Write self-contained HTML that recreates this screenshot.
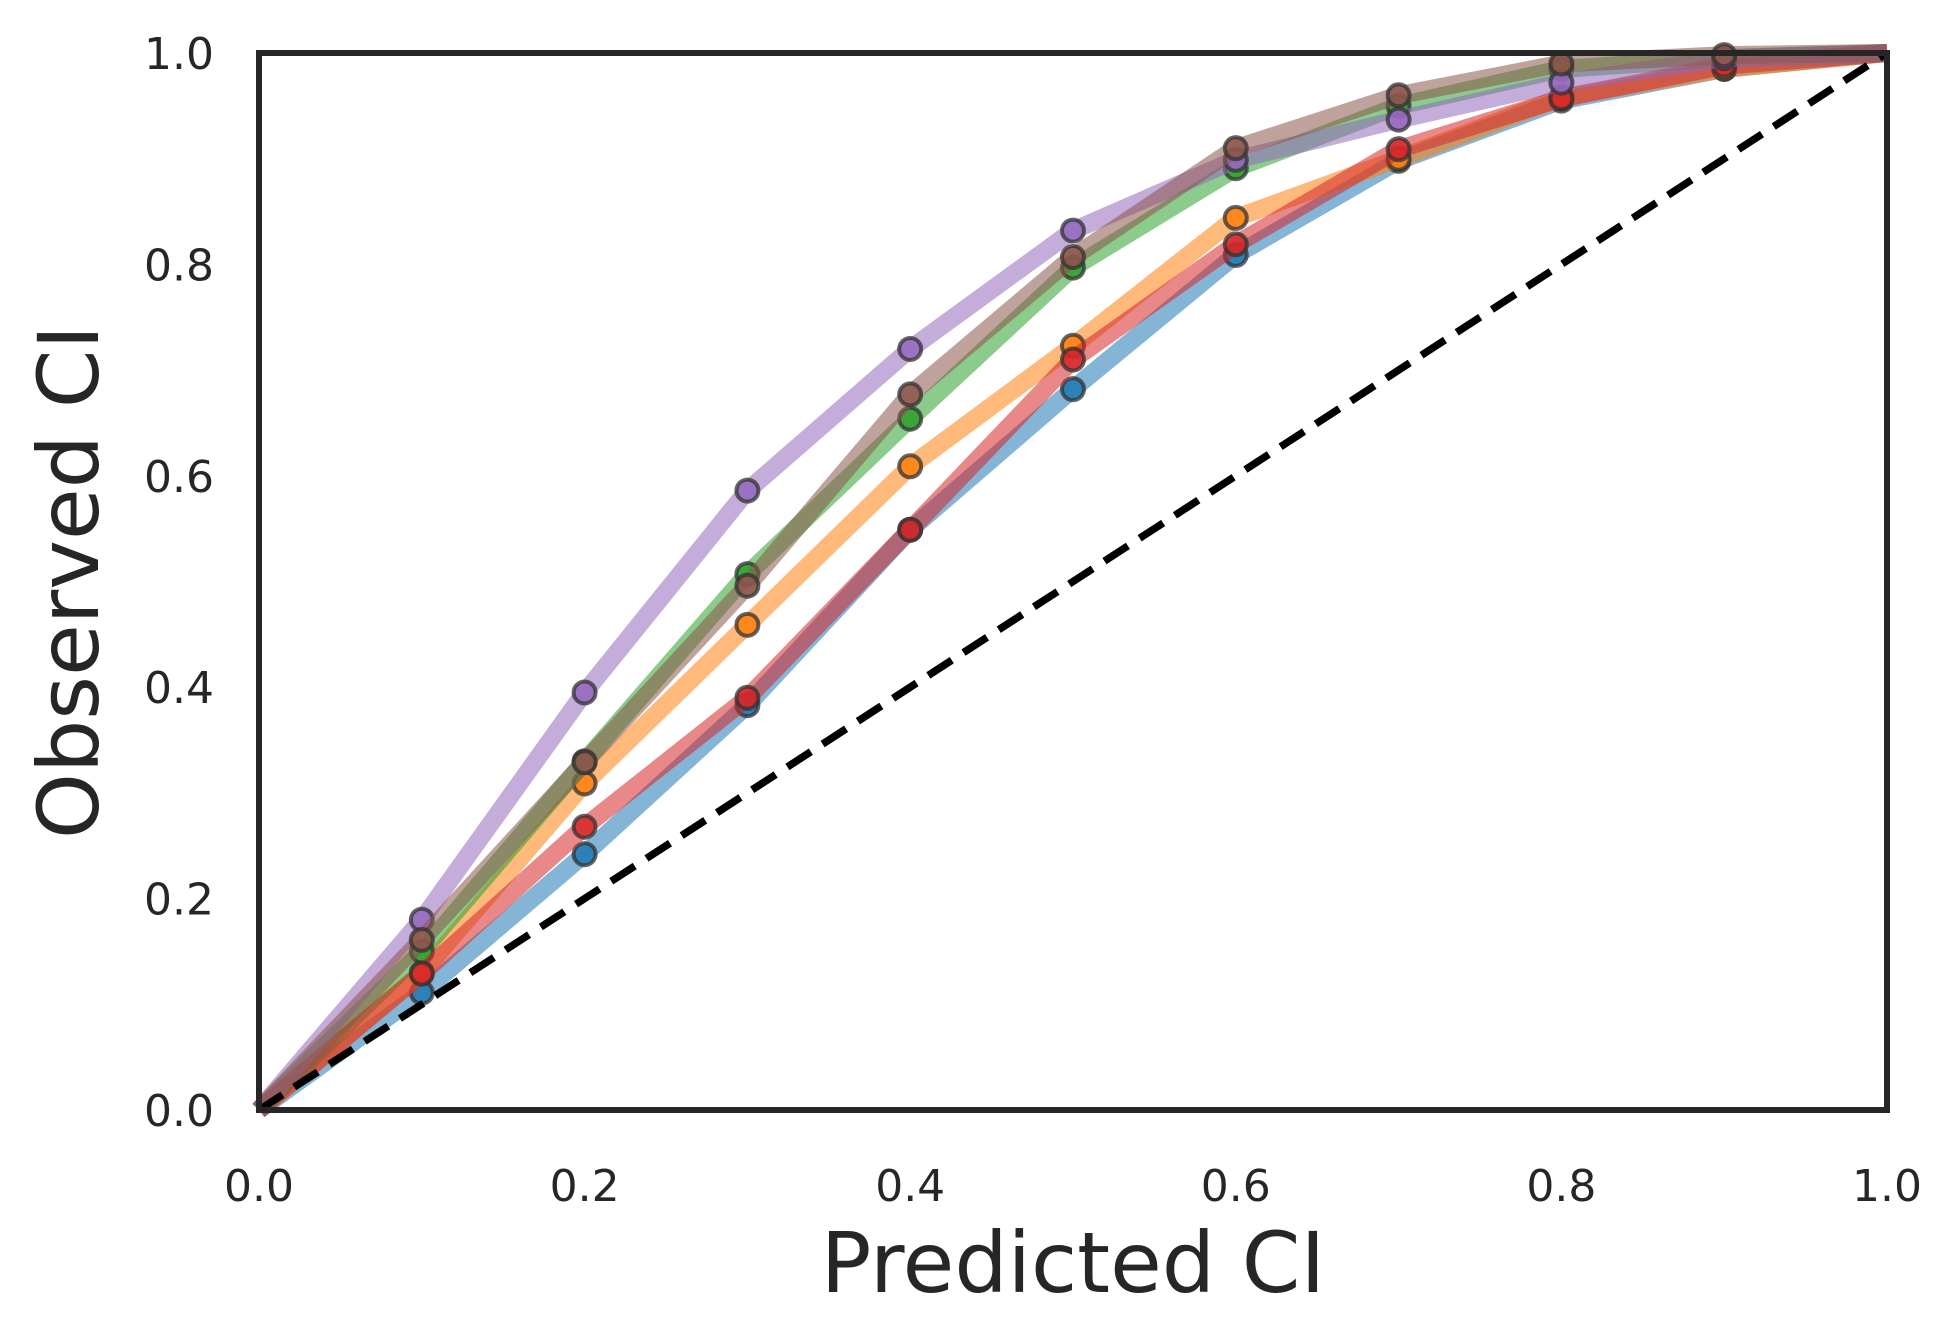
<!DOCTYPE html>
<html><head><meta charset="utf-8">
<style>
html,body{margin:0;padding:0;background:#fff;}
svg{display:block;font-family:"DejaVu Sans","Liberation Sans",sans-serif;}
</style></head>
<body>
<svg id="chart" width="1960" height="1340" viewBox="0 0 1960 1340" xmlns="http://www.w3.org/2000/svg">
<rect width="1960" height="1340" fill="#fff"/>
<g id="series"></g>
<g id="ticks"></g>
<text x="1073" y="1292" font-size="84" fill="#262626" text-anchor="middle">Predicted CI</text>
<text x="0" y="0" font-size="84" fill="#262626" text-anchor="middle" transform="translate(98,582) rotate(-90)">Observed CI</text>
</svg>
<script>
const xs = [0,0.1,0.2,0.3,0.4,0.5,0.6,0.7,0.8,0.9,1.0];
const blueVals   = [0,0.111,0.242,0.383,0.549,0.682,0.809,0.898,0.955,0.985,1];
const orangeVals = [0,0.13,0.309,0.459,0.609,0.723,0.844,0.900,0.958,0.985,1];
const greenVals  = [0,0.15,0.33,0.507,0.654,0.797,0.891,0.95,0.985,0.995,1];
const redVals    = [0,0.129,0.268,0.390,0.549,0.710,0.819,0.909,0.957,0.988,1];
const purpleVals = [0,0.18,0.395,0.586,0.720,0.832,0.899,0.937,0.972,0.995,1];
const brownVals  = [0,0.161,0.329,0.496,0.677,0.807,0.910,0.960,0.99,0.998,1];
const seriesNames = ['blue','orange','green','red','purple','brown'];
const seriesColors = ['#1f77b4','#ff7f0e','#2ca02c','#d62728','#9467bd','#8c564b'];
const tickVals = [0,0.2,0.4,0.6,0.8,1.0];
const tickLabels = ['0.0','0.2','0.4','0.6','0.8','1.0'];

const X0=259,X1=1887,Y0=1110,Y1=53;
function sx(v){return X0+(X1-X0)*v;}
function sy(v){return Y0-(Y0-Y1)*v;}
const NS='http://www.w3.org/2000/svg';
const g=document.getElementById('series');
const allVals=[blueVals,orangeVals,greenVals,redVals,purpleVals,brownVals];
allVals.forEach((vals,i)=>{
  const p=document.createElementNS(NS,'polyline');
  p.setAttribute('points',xs.map((x,j)=>sx(x)+','+sy(vals[j])).join(' '));
  p.setAttribute('fill','none');p.setAttribute('stroke',seriesColors[i]);
  p.setAttribute('stroke-width','18');p.setAttribute('stroke-opacity','0.55');
  p.setAttribute('stroke-linejoin','round');
  
  
  g.appendChild(p);
  xs.forEach((x,j)=>{
    if(j===0||j===xs.length-1) return;
    const c=document.createElementNS(NS,'circle');
    c.setAttribute('cx',sx(x));c.setAttribute('cy',sy(vals[j]));c.setAttribute('r','11');
    c.setAttribute('fill',seriesColors[i]);c.setAttribute('fill-opacity','0.85');
    c.setAttribute('stroke','#333');c.setAttribute('stroke-opacity','0.75');c.setAttribute('stroke-width','4');
    
    
    g.appendChild(c);
  });
});
const d=document.createElementNS(NS,'line');
d.setAttribute('x1',sx(0));d.setAttribute('y1',sy(0));d.setAttribute('x2',sx(1));d.setAttribute('y2',sy(1));
d.setAttribute('stroke','#000');d.setAttribute('stroke-width','7.5');d.setAttribute('stroke-dasharray','28 14');


g.appendChild(d);
const fr=document.createElementNS(NS,'rect');
fr.setAttribute('x',X0);fr.setAttribute('y',Y1);fr.setAttribute('width',X1-X0);fr.setAttribute('height',Y0-Y1);
fr.setAttribute('fill','none');fr.setAttribute('stroke','#262626');fr.setAttribute('stroke-width','6');


g.appendChild(fr);
const tg=document.getElementById('ticks');
tickVals.forEach((v,i)=>{
  const tx=document.createElementNS(NS,'text');
  tx.setAttribute('x',sx(v));tx.setAttribute('y','1201');tx.setAttribute('font-size','44');
  tx.setAttribute('text-anchor','middle');tx.setAttribute('fill','#262626');
  tx.textContent=tickLabels[i];
  
  
  tg.appendChild(tx);
  const ty=document.createElementNS(NS,'text');
  ty.setAttribute('x','214');ty.setAttribute('y',sy(v)+16);ty.setAttribute('font-size','44');
  ty.setAttribute('text-anchor','end');ty.setAttribute('fill','#262626');
  ty.textContent=tickLabels[i];
  
  
  tg.appendChild(ty);
});
</script>
</body></html>
